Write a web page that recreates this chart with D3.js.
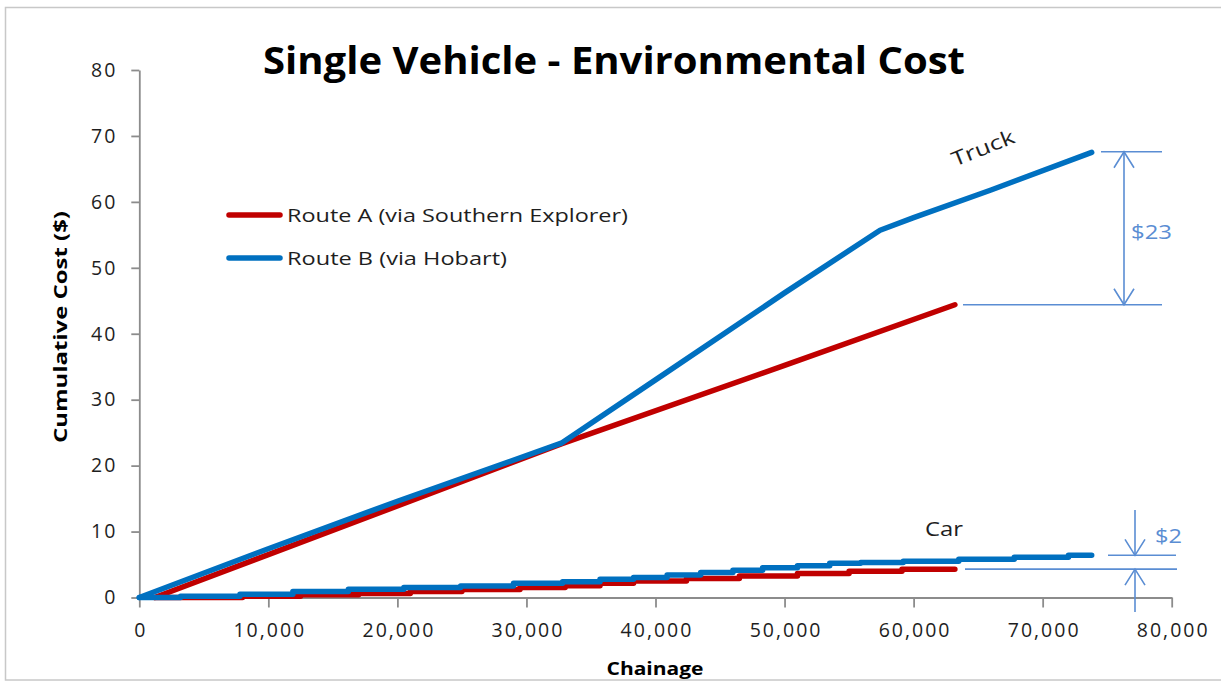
<!DOCTYPE html>
<html>
<head>
<meta charset="utf-8">
<script src="https://cdn.jsdelivr.net/npm/d3@7"></script>
<style>
  html, body { margin: 0; padding: 0; background: #fff; }
  svg { display: block; font-family: "Open Sans", "Liberation Sans", sans-serif; }
</style>
</head>
<body>
<svg id="chart" width="1221" height="686"></svg>
<script>
// ---- data ----
const xTicks = [0, 10000, 20000, 30000, 40000, 50000, 60000, 70000, 80000];
const yTicks = [0, 10, 20, 30, 40, 50, 60, 70, 80];

const seriesNames = ["Route A (via Southern Explorer)", "Route B (via Hobart)"];

// Truck
const truckA_x = [1200, 10000, 20000, 32700, 50000, 63200];
const truckA_y = [0, 6.5, 13.9, 23.3, 35.2, 44.4];
const truckB_x = [0, 10000, 20000, 32700, 40000, 50000, 57400, 60000, 66000, 73800];
const truckB_y = [0, 7.4, 14.6, 23.4, 33.0, 46.2, 55.7, 57.6, 61.8, 67.5];

// Car (stepped cumulative)
const carA_x = [1200, 8000, 12500, 17000, 21000, 25000, 29500, 33000, 35700, 38300, 42400, 46500, 51000, 55000, 59100, 63200];
const carA_y = [0, 0.2, 0.4, 0.6, 0.9, 1.2, 1.5, 1.8, 2.15, 2.5, 2.9, 3.25, 3.65, 4.0, 4.3, 4.3];
const carB_x = [0, 3200, 7800, 11900, 16200, 20500, 24900, 29000, 32800, 35700, 38300, 40900, 43500, 46000, 48300, 51000, 53500, 55900, 59200, 63500, 67800, 72000, 73800];
const carB_y = [0, 0.2, 0.5, 0.9, 1.25, 1.5, 1.75, 2.15, 2.4, 2.75, 3.05, 3.4, 3.8, 4.15, 4.5, 4.8, 5.2, 5.3, 5.5, 5.8, 6.1, 6.4, 6.4];

// Annotations
const truckDiffLabel = "$23";
const carDiffLabel = "$2";
const truckEnds = [67.6, 44.4];
const carEnds = [6.4, 4.3];

// ---- drawing ----
const svg = d3.select("#chart");
const blue = "#0070C0", red = "#C00000", annot = "#5A8DD3", axisCol = "#8C8C8C", txt = "#262626";

svg.append("rect").attr("x", 5.5).attr("y", 7.5).attr("width", 1240).attr("height", 672.5)
  .attr("fill", "#fff").attr("stroke", "#C8C8C8").attr("stroke-width", 1.5);

const x = d3.scaleLinear().domain([0, 80000]).range([139.3, 1171.7]);
const y = d3.scaleLinear().domain([0, 80]).range([597.5, 70]);

// axes
const gx = svg.append("g").attr("transform", `translate(0,${y(0)})`)
  .call(d3.axisBottom(x).tickValues(xTicks).tickFormat(d3.format(",")).tickSize(10).tickSizeOuter(0).tickPadding(16));
const gy = svg.append("g").attr("transform", `translate(${x(0)},0)`)
  .call(d3.axisLeft(y).tickValues(yTicks).tickSize(8).tickSizeOuter(0).tickPadding(14));
[gx, gy].forEach(g => {
  g.select(".domain").attr("stroke", axisCol).attr("stroke-width", 1.8);
  g.selectAll(".tick line").attr("stroke", axisCol).attr("stroke-width", 1.8);
  g.selectAll(".tick text").attr("fill", "#1e1e1e").style("font-size", "19.5px")
    .style("font-family", "'Open Sans', sans-serif").style("letter-spacing", "2px");
});
gx.selectAll(".tick text").attr("dx", "1px");

function fit(sel, w) { sel.attr("textLength", w).attr("lengthAdjust", "spacingAndGlyphs"); return sel; }

// title
fit(svg.append("text").attr("x", 614).attr("y", 74).attr("text-anchor", "middle")
  .attr("font-size", 38).attr("font-weight", "bold").attr("fill", "#000")
  .text("Single Vehicle - Environmental Cost"), 702);

// axis titles
fit(svg.append("text").attr("transform", "translate(67,327) rotate(-90)").attr("text-anchor", "middle")
  .attr("font-size", 17.5).attr("font-weight", "bold").attr("fill", "#000")
  .text("Cumulative Cost ($)"), 232);
fit(svg.append("text").attr("x", 655).attr("y", 675).attr("text-anchor", "middle")
  .attr("font-size", 18.5).attr("font-weight", "bold").attr("fill", "#000")
  .text("Chainage"), 97);

// lines
const line = d3.line().x(d => x(d[0])).y(d => y(d[1]));
const stepLine = d3.line().x(d => x(d[0])).y(d => y(d[1])).curve(d3.curveStepAfter);
const zip = (a, b) => a.map((v, i) => [v, b[i]]);

const plot = svg.append("g").attr("fill", "none").attr("stroke-width", 5.5)
  .attr("stroke-linecap", "round").attr("stroke-linejoin", "round");
plot.append("path").attr("d", stepLine(zip(carA_x, carA_y))).attr("stroke", red);
plot.append("path").attr("d", line(zip(truckA_x, truckA_y))).attr("stroke", red);
plot.append("path").attr("d", stepLine(zip(carB_x, carB_y))).attr("stroke", blue);
plot.append("path").attr("d", line(zip(truckB_x, truckB_y))).attr("stroke", blue);

// legend
const legend = svg.append("g");
[[red, 215], [blue, 258]].forEach(([c, ly], i) => {
  legend.append("line").attr("x1", 229).attr("x2", 280).attr("y1", ly).attr("y2", ly)
    .attr("stroke", c).attr("stroke-width", 5.5).attr("stroke-linecap", "round");
  const t = legend.append("text").attr("x", 287).attr("y", ly + 7).attr("font-size", 18.5)
    .attr("fill", "#1e1e1e").text(seriesNames[i]);
  fit(t, i === 0 ? 341 : 220);
});

// series labels
fit(svg.append("text").attr("transform", "translate(983,148) rotate(-22)").attr("text-anchor", "middle")
  .attr("font-size", 20).attr("fill", "#1e1e1e").attr("dy", "0.35em").text("Truck"), 66);
fit(svg.append("text").attr("x", 944).attr("y", 536).attr("text-anchor", "middle")
  .attr("font-size", 20).attr("fill", "#1e1e1e").text("Car"), 38);

// annotations
const ann = svg.append("g").attr("stroke", annot).attr("stroke-width", 1.6).attr("fill", "none");
function vArrowHead(xp, yp, dir) { // dir = +1 pointing down, -1 pointing up
  ann.append("path").attr("d", `M${xp - 10},${yp - dir * 16} L${xp},${yp} L${xp + 10},${yp - dir * 16}`);
}
// Truck $23
ann.append("line").attr("x1", 1101).attr("x2", 1162).attr("y1", y(truckEnds[0])).attr("y2", y(truckEnds[0]));
ann.append("line").attr("x1", 963).attr("x2", 1162).attr("y1", y(truckEnds[1])).attr("y2", y(truckEnds[1]));
ann.append("line").attr("x1", 1124).attr("x2", 1124).attr("y1", y(truckEnds[0])).attr("y2", y(truckEnds[1]));
vArrowHead(1124, y(truckEnds[0]), -1);
vArrowHead(1124, y(truckEnds[1]), 1);
fit(svg.append("text").attr("x", 1131).attr("y", 239).attr("font-size", 20).attr("fill", annot)
  .text(truckDiffLabel), 41);
// Car $2
ann.append("line").attr("x1", 1108).attr("x2", 1176).attr("y1", y(carEnds[0])).attr("y2", y(carEnds[0]));
ann.append("line").attr("x1", 965).attr("x2", 1177).attr("y1", y(carEnds[1])).attr("y2", y(carEnds[1]));
ann.append("line").attr("x1", 1135).attr("x2", 1135).attr("y1", 510).attr("y2", y(carEnds[0]));
ann.append("line").attr("x1", 1135).attr("x2", 1135).attr("y1", 612).attr("y2", y(carEnds[1]));
vArrowHead(1135, y(carEnds[0]), 1);
vArrowHead(1135, y(carEnds[1]), -1);
fit(svg.append("text").attr("x", 1155).attr("y", 543).attr("font-size", 20).attr("fill", annot)
  .text(carDiffLabel), 27);
</script>
</body>
</html>
